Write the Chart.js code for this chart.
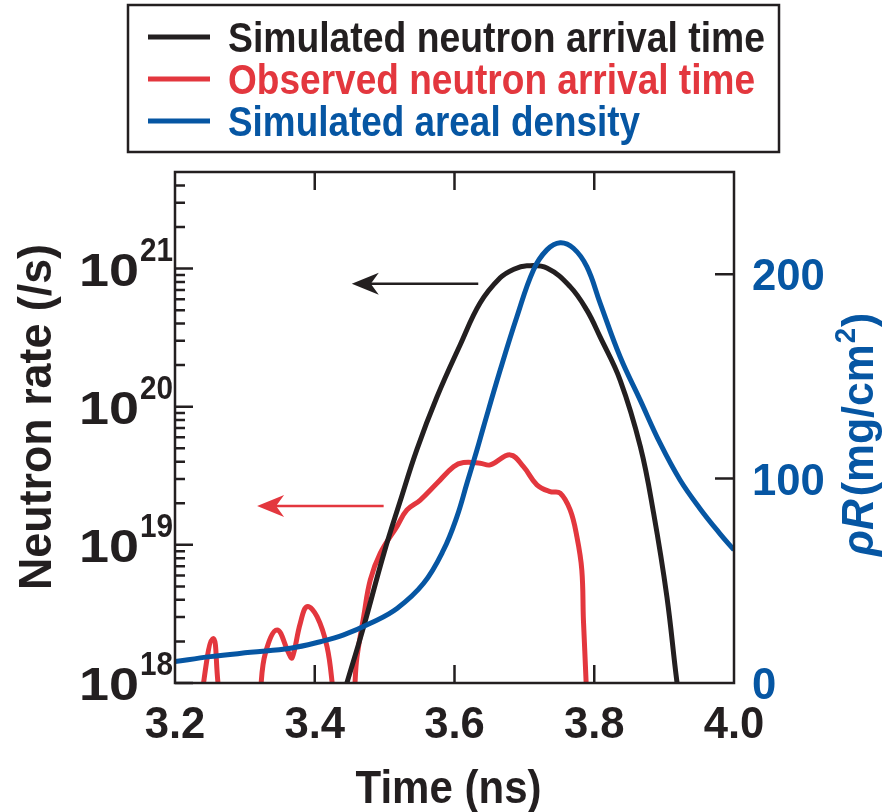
<!DOCTYPE html>
<html>
<head>
<meta charset="utf-8">
<script src="https://cdn.jsdelivr.net/npm/chart.js@4.4.0/dist/chart.umd.min.js"></script>
<style>
  html, body { margin: 0; padding: 0; background: #fff; }
  canvas { display: block; }
</style>
</head>
<body>
<canvas id="chart" width="886" height="812"></canvas>
<script>
// simulated neutron arrival time (left, log axis)
const simTime = [3.446, 3.470, 3.499, 3.522, 3.546, 3.575, 3.6082, 3.6368, 3.6654, 3.685,
  3.7036, 3.7322, 3.7655, 3.7894, 3.8084, 3.837, 3.866, 3.885, 3.904, 3.918, 3.922];
const simRate = [1.0e18, 2.56e18, 8.7e18, 2.05e19, 4.87e19, 1.18e20, 2.81e20, 5.65e20, 8.57e20, 9.9e20,
  1.047e21, 1.01e21, 7.4e20, 5.0e20, 3.2e20, 1.56e20, 5.14e19, 1.69e19, 4.2e18, 1.05e18, 8e17];

// observed neutron arrival time (left, log axis); values < 1e18 fall below the axis
const obsTime = [3.234, 3.2546, 3.272, 3.312, 3.3294, 3.3461, 3.3627, 3.3676, 3.3794, 3.389,
  3.4033, 3.4176, 3.434, 3.451, 3.4605, 3.470, 3.4795, 3.4938, 3.5177, 3.532,
  3.551, 3.5749, 3.5986, 3.6129, 3.6368, 3.6511, 3.6797, 3.6987, 3.7179, 3.7369,
  3.7512, 3.7655, 3.7751, 3.7822, 3.7845, 3.7884, 3.790];
const obsRate = [6e17, 2.1e18, 6e17, 6e17, 1.65e18, 2.42e18, 1.65e18, 1.52e18, 2.72e18, 3.57e18,
  3.02e18, 1.83e18, 6e17, 6e17, 1.55e18, 3.02e18, 5.57e18, 8.7e18, 1.36e19, 1.79e19,
  2.11e19, 2.79e19, 3.68e19, 3.94e19, 3.9e19, 3.79e19, 4.48e19, 3.68e19, 2.72e19, 2.43e19,
  2.37e19, 1.79e19, 1.15e19, 6.58e18, 2.86e18, 1.0e18, 5e17];

// simulated areal density (right axis, mg/cm2)
const rhoTime = [3.2, 3.2508, 3.308, 3.3651, 3.408, 3.4414, 3.4795, 3.5177, 3.5558, 3.5843,
  3.6035, 3.6178, 3.6321, 3.6416, 3.6654, 3.6893, 3.713, 3.7322, 3.7512, 3.7702,
  3.7894, 3.8084, 3.837, 3.8656, 3.8942, 3.9228, 3.9514, 3.98, 4.0];
const rhoR = [10.5, 12.9, 15.0, 17.0, 20.2, 23.5, 29.2, 36.5, 48.8, 65.1,
  81.4, 97.7, 114.0, 125.4, 153.1, 179.2, 202.1, 211.9, 215.4, 212.7,
  203.7, 185.9, 159.6, 138.5, 117.3, 99.3, 85.3, 73.0, 65.1];

const timeTicks = [3.2, 3.4, 3.6, 3.8, 4.0];
const rateTicks = [1e18, 1e19, 1e20, 1e21];
const rhoTicks = [0, 100, 200];

const seriesNames = ['Simulated neutron arrival time', 'Observed neutron arrival time', 'Simulated areal density'];

const INK = '#231f20';
const RED = '#e3373e';
const BLUE = '#0656a3';
const FONT = '"Liberation Sans", Arial, sans-serif';

function pairs(xs, ys) {
  return xs.map((x, i) => ({ x: x, y: ys[i] }));
}

// bold text, optionally squeezed to a target width and rotated
function text(ctx, s, x, y, size, o) {
  o = o || {};
  ctx.save();
  ctx.font = (o.italic ? 'italic ' : '') + 'bold ' + size + 'px ' + FONT;
  const w = ctx.measureText(s).width;
  const sx = o.width ? o.width / w : (o.sx || 1);
  ctx.translate(x, y);
  if (o.rot) ctx.rotate(o.rot);
  ctx.scale(sx, 1);
  ctx.textAlign = o.align || 'left';
  ctx.textBaseline = 'alphabetic';
  ctx.fillStyle = o.color || INK;
  ctx.fillText(s, 0, 0);
  ctx.restore();
  return w * sx;
}

function arrow(ctx, x0, x1, y, color) {
  ctx.save();
  ctx.strokeStyle = color;
  ctx.fillStyle = color;
  ctx.lineWidth = 2.5;
  ctx.beginPath();
  ctx.moveTo(x0 + 14, y);
  ctx.lineTo(x1, y);
  ctx.stroke();
  ctx.beginPath();
  ctx.moveTo(x0, y);
  ctx.lineTo(x0 + 27, y - 11);
  ctx.lineTo(x0 + 19, y);
  ctx.lineTo(x0 + 27, y + 11);
  ctx.closePath();
  ctx.fill();
  ctx.restore();
}

const decorations = {
  id: 'decorations',
  afterDatasetsDraw(chart) {
    const { ctx, chartArea: a, scales } = chart;
    const xs = scales.x, ys = scales.y, rs = scales.y1;

    ctx.save();
    ctx.strokeStyle = INK;
    ctx.lineWidth = 2.5;
    ctx.strokeRect(a.left, a.top, a.right - a.left, a.bottom - a.top);
    ctx.beginPath();
    timeTicks.forEach(v => {
      if (v <= xs.min || v >= xs.max) return;
      const px = xs.getPixelForValue(v);
      ctx.moveTo(px, a.bottom); ctx.lineTo(px, a.bottom - 18);
      ctx.moveTo(px, a.top); ctx.lineTo(px, a.top + 18);
    });
    for (let e = 18; e <= 21; e++) {
      for (let m = 1; m <= 9; m++) {
        const v = m * Math.pow(10, e);
        if (v >= ys.max * 0.999) break;
        const py = ys.getPixelForValue(v);
        ctx.moveTo(a.left, py);
        ctx.lineTo(a.left + (m === 1 ? 18 : 10), py);
      }
    }
    rhoTicks.forEach(v => {
      if (v <= rs.min) return;
      const py = rs.getPixelForValue(v);
      ctx.moveTo(a.right, py); ctx.lineTo(a.right - 19, py);
    });
    ctx.stroke();
    ctx.restore();

    // arrows pointing to the left axis
    arrow(ctx, xs.getPixelForValue(3.453), xs.getPixelForValue(3.634), ys.getPixelForValue(7.75e20), INK);
    arrow(ctx, xs.getPixelForValue(3.3175), xs.getPixelForValue(3.4986), ys.getPixelForValue(1.91e19), RED);
  },
  afterDraw(chart) {
    const { ctx, chartArea: a, scales } = chart;
    const xs = scales.x, ys = scales.y, rs = scales.y1;

    // bottom tick labels + title
    timeTicks.forEach(v => {
      text(ctx, v.toFixed(1), xs.getPixelForValue(v), 738, 45, { align: 'center', sx: 0.97 });
    });
    text(ctx, 'Time (ns)', (a.left + a.right) / 2 - 6, 803, 46, { align: 'center', width: 186 });

    // left log labels with superscripts
    rateTicks.forEach(v => {
      const py = ys.getPixelForValue(v);
      const exp = String(Math.round(Math.log10(v)));
      text(ctx, '10', 139, py + 17, 47, { align: 'right', width: 60 });
      text(ctx, exp, 140, py - 8, 34, { width: 33 });
    });
    text(ctx, 'Neutron rate (/s)', 51, 417, 46, { align: 'center', rot: -Math.PI / 2, width: 346 });

    // right axis labels
    rhoTicks.forEach(v => {
      const py = rs.getPixelForValue(v);
      text(ctx, String(v), 752, py + 16, 45, { color: BLUE, sx: 0.97 });
    });
    ctx.save();
    ctx.translate(873, 556);
    ctx.rotate(-Math.PI / 2);
    let cx = 0;
    cx += text(ctx, '\u03c1R', cx, 0, 45, { italic: true, color: BLUE, sx: 0.95 });
    cx += 3;
    cx += text(ctx, '(mg/cm', cx, 0, 45, { color: BLUE, sx: 0.95 });
    cx += text(ctx, '2', cx + 1, -18, 29, { color: BLUE, sx: 0.95 }) + 2;
    text(ctx, ')', cx, 0, 45, { color: BLUE, sx: 0.95 });
    ctx.restore();

    // legend box
    ctx.save();
    ctx.strokeStyle = INK;
    ctx.lineWidth = 2.5;
    ctx.strokeRect(128, 5, 651, 147);
    const rows = [
      { y: 37, color: INK, width: 537 },
      { y: 79, color: RED, width: 527 },
      { y: 121, color: BLUE, width: 412 }
    ];
    rows.forEach((r, i) => {
      ctx.strokeStyle = r.color;
      ctx.lineWidth = 5;
      ctx.beginPath();
      ctx.moveTo(148, r.y);
      ctx.lineTo(210, r.y);
      ctx.stroke();
      text(ctx, seriesNames[i], 228, r.y + 15, 42, { color: r.color, width: r.width });
    });
    ctx.restore();
  }
};

new Chart(document.getElementById('chart'), {
  type: 'line',
  data: {
    datasets: [
      {
        label: seriesNames[2],
        data: pairs(rhoTime, rhoR),
        yAxisID: 'y1',
        borderColor: BLUE,
        tension: 0.4,
        order: 0
      },
      {
        label: seriesNames[0],
        data: pairs(simTime, simRate),
        yAxisID: 'y',
        borderColor: INK,
        tension: 0.4,
        order: 1
      },
      {
        label: seriesNames[1],
        data: pairs(obsTime, obsRate),
        yAxisID: 'y',
        borderColor: RED,
        tension: 0.4,
        order: 2
      }
    ]
  },
  options: {
    responsive: false,
    animation: false,
    devicePixelRatio: 1,
    layout: { padding: { left: 175, right: 152, top: 172, bottom: 129 } },
    elements: {
      point: { radius: 0 },
      line: { borderWidth: 5, fill: false, capBezierPoints: false }
    },
    plugins: {
      legend: { display: false },
      tooltip: { enabled: false }
    },
    scales: {
      x: { type: 'linear', min: 3.2, max: 4.0, display: false },
      y: { type: 'logarithmic', min: 1e18, max: 5e21, display: false },
      y1: { type: 'linear', min: 0, max: 250, display: false, position: 'right' }
    }
  },
  plugins: [decorations]
});
</script>
</body>
</html>
